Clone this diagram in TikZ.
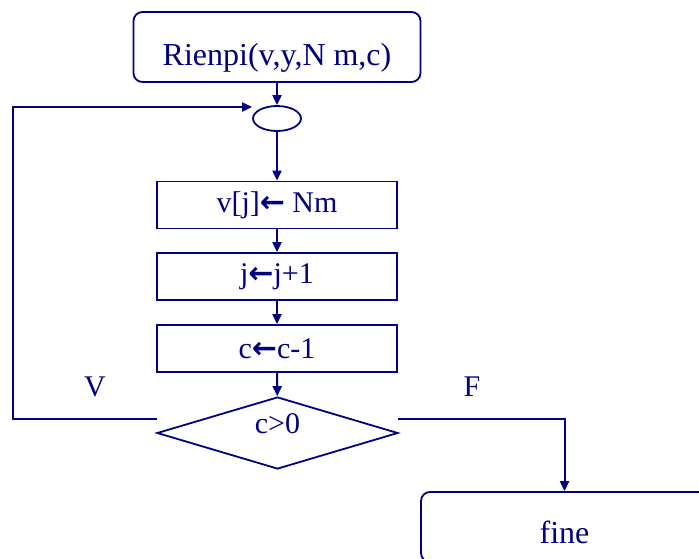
\documentclass[tikz,border=0pt]{standalone}
\usepackage{fontspec}
\setmainfont{Liberation Serif}
\newfontfamily\arrowfont{DejaVu Sans}
\usepackage{tikz}
\usetikzlibrary{arrows.meta,shapes.geometric}
\definecolor{navy}{RGB}{0,0,128}
\newcommand{\getsarrow}{{\arrowfont\bfseries ←}}

\begin{document}
\begin{tikzpicture}[
  x=1pt, y=-1pt,
  font=\fontsize{30}{36}\selectfont, text=navy,
  term/.style={draw=navy, line width=1.8pt, rounded corners=9pt, minimum width=287pt,
               minimum height=70pt, inner sep=0pt, font=\fontsize{32}{38}\selectfont},
  instr/.style={draw=navy, line width=1.8pt, minimum width=240pt,
                minimum height=47pt, inner sep=0pt},
  cond/.style={draw=navy, line width=1.8pt, diamond, aspect=3, minimum width=241pt,
               minimum height=72pt, inner sep=0pt},
  junc/.style={draw=navy, line width=1.8pt, ellipse, minimum width=48pt,
               minimum height=25pt, inner sep=0pt},
  ar/.style={draw=navy, line width=2pt, -{Triangle[length=10pt, width=9pt]}},
]
\useasboundingbox (0,0) rectangle (699,558);

\node[term, text height=40pt, text depth=4pt] (start) at (277, 47) {Rienpi(v,y,N m,c)};
\node[junc] (ell)   at (277, 118.5) {};
\node[instr] (b1)   at (277, 205)   {v[j]\getsarrow\ Nm};
\node[instr] (b2)   at (277, 276.5) {j\getsarrow j+1};
\node[instr] (b3)   at (277, 348.5) {c\getsarrow c-1};
\node[cond, text height=4pt, text depth=4pt] (test) at (277.5, 433) {c>0};
\node[term, text height=36pt, text depth=4pt] (fine) at (564.5, 527) {fine};

\node (lv) at (95, 387)  {V};
\node (lf) at (472, 387) {F};

\foreach \a/\b in {start/ell, ell/b1, b1/b2, b2/b3, b3/test}
  \draw[ar] (\a) -- (\b);

% ramo vero: torna al punto di giunzione
\coordinate (dl) at (157, 419);
\coordinate (lc) at (13, 419);
\coordinate (lt) at (13, 107);
\draw[ar] (dl) -- (lc) -- (lt) -- (lt -| ell.west);

% ramo falso
\coordinate (dr) at (398, 419);
\draw[ar] (dr) -| (fine);
\end{tikzpicture}
\end{document}
